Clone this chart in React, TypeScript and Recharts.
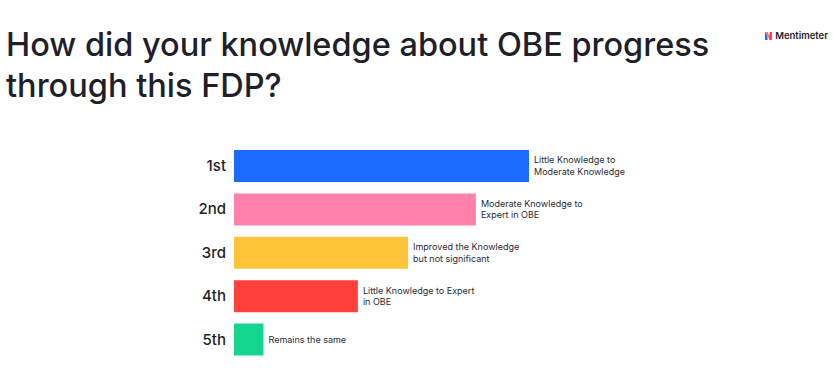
import { BarChart, Bar, XAxis, YAxis, Cell, LabelList } from 'recharts';

const ranks = ['1st', '2nd', '3rd', '4th', '5th'];
const answers = [
  ['Little Knowledge to', 'Moderate Knowledge'],
  ['Moderate Knowledge to', 'Expert in OBE'],
  ['Improved the Knowledge', 'but not significant'],
  ['Little Knowledge to Expert', 'in OBE'],
  ['Remains the same'],
];
const scores = [100, 82, 59, 42, 10];
const colors = ['#196cff', '#ff80ab', '#fec43a', '#ff403d', '#14d68f'];

const data = ranks.map((rank, i) => ({ rank, score: scores[i], lines: answers[i] }));

const FONT = 'Inter, "Noto Sans", sans-serif';

function AnswerLabel(props: any) {
  const { x, y, width, height, index } = props;
  const lines: string[] = data[index].lines;
  const cy = y + height / 2;
  const lh = 11.5;
  const start = cy - ((lines.length - 1) * lh) / 2;
  return (
    <text x={x + width + 5} fill='#2b2b33' fontSize={9} fontFamily={FONT}>
      {lines.map((l, i) => (
        <tspan key={i} x={x + width + 5} y={start + i * lh} dy='0.35em'>
          {l}
        </tspan>
      ))}
    </text>
  );
}

export default function App() {
  return (
    <div style={{ position: 'relative', width: 833, height: 387, background: '#fff', fontFamily: FONT }}>
      <style>{'body{margin:0}'}</style>
      <div
        style={{
          position: 'absolute',
          left: 6,
          top: 24,
          whiteSpace: 'nowrap',
          fontSize: 32.5,
          lineHeight: '41px',
          color: '#1e1f29',
          fontWeight: 500,
        }}
      >
        How did your knowledge about OBE progress
        <br />
        through this FDP?
      </div>
      <div
        style={{
          position: 'absolute',
          right: 5,
          top: 30,
          display: 'flex',
          alignItems: 'center',
          gap: 3,
          fontSize: 9.5,
          fontWeight: 600,
          color: '#1e1f29',
        }}
      >
        <svg width={7} height={8} viewBox='0 0 7 8'>
          <rect x={0} y={0} width={2.5} height={8} fill='#196cff' />
          <polygon points='0,0 2.5,0 7,8 4.5,8' fill='#ff7597' />
          <rect x={4.5} y={0} width={2.5} height={8} fill='#ff403d' />
        </svg>
        Mentimeter
      </div>
      <div style={{ position: 'absolute', left: 0, top: 0 }}>
        <BarChart
          width={833}
          height={387}
          data={data}
          layout='vertical'
          margin={{ top: 144, right: 304, bottom: 26, left: 0 }}
          barSize={32}
        >
          <XAxis type='number' dataKey='score' domain={[0, 100]} hide />
          <YAxis
            type='category'
            dataKey='rank'
            width={234}
            axisLine={false}
            tickLine={false}
            tick={{ fill: '#1e1f29', fontSize: 15, fontWeight: 500, fontFamily: FONT }}
          />
          <Bar dataKey='score' isAnimationActive={false}>
            {data.map((d, i) => (
              <Cell key={d.rank} fill={colors[i]} />
            ))}
            <LabelList dataKey='score' content={<AnswerLabel />} />
          </Bar>
        </BarChart>
      </div>
    </div>
  );
}
